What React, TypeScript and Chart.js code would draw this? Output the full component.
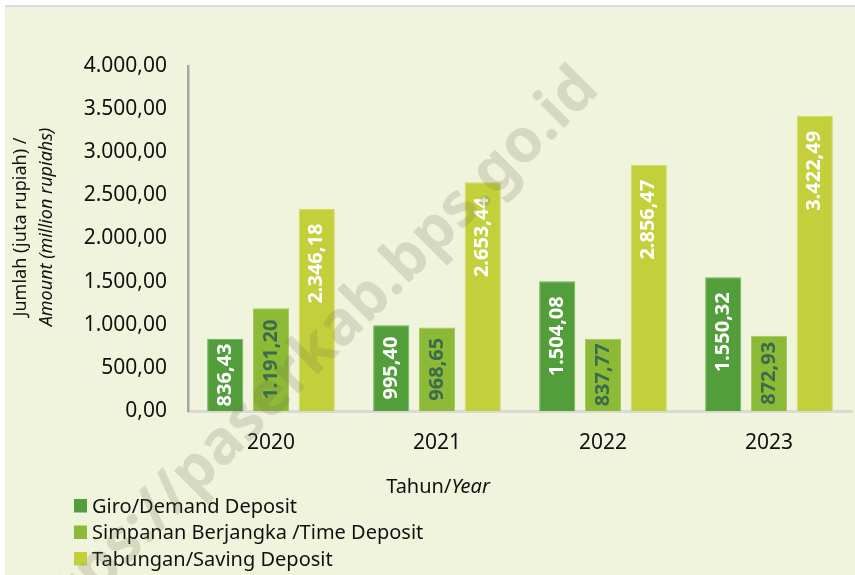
import React, { useEffect, useRef } from "react";
import { Chart, registerables } from "chart.js";

Chart.register(...registerables);

const years = ["2020", "2021", "2022", "2023"];
const giroValues = [836.43, 995.4, 1504.08, 1550.32];
const timeValues = [1191.2, 968.65, 837.77, 872.93];
const savingValues = [2346.18, 2653.44, 2856.47, 3422.49];
const seriesNames = [
  "Giro/Demand Deposit",
  "Simpanan Berjangka /Time Deposit",
  "Tabungan/Saving Deposit",
];
const yTitleLine1 = "Jumlah (juta rupiah) /";
const yTitleLine2 = "Amount (million rupiahs)";
const xTitleMain = "Tahun/";
const xTitleItalic = "Year";
const watermarkText = "https://paserkab.bps.go.id";

const FONT = "'Noto Sans', sans-serif";
const fillColors = ["#529E3A", "#8CB936", "#C3D03B"];
const borderColors = ["#6DB057", "#A2C85A", "#D0DA62"];
const labelColors = ["#FFFFFF", "#3B6B4D", "#FFFFFF"];

function fmt(v: number): string {
  const [i, d] = v.toFixed(2).split(".");
  return i.replace(/\B(?=(\d{3})+(?!\d))/g, ".") + "," + d;
}

const decorPlugin = {
  id: "decor",
  afterDatasetsDraw(chart: any) {
    const ctx = chart.ctx as CanvasRenderingContext2D;
    ctx.save();
    ctx.font = `bold 20px ${FONT}`;
    chart.data.datasets.forEach((ds: any, di: number) => {
      const meta = chart.getDatasetMeta(di);
      meta.data.forEach((bar: any, i: number) => {
        const text = fmt(ds.data[i]);
        const w = ctx.measureText(text).width;
        const { x, y, base } = bar.getProps(["x", "y", "base"], true);
        const h = base - y;
        const pad = h - w > 30 ? 15 : Math.max(0, (h - w) / 2);
        ctx.save();
        ctx.translate(x, y + pad);
        ctx.rotate(-Math.PI / 2);
        ctx.textAlign = "right";
        ctx.textBaseline = "middle";
        ctx.fillStyle = labelColors[di];
        ctx.fillText(text, 0, 0);
        ctx.restore();
      });
    });
    ctx.restore();
  },
  afterDraw(chart: any) {
    const ctx = chart.ctx as CanvasRenderingContext2D;
    ctx.save();
    ctx.fillStyle = "#111111";
    // Y axis title
    ctx.save();
    ctx.translate(21, 227);
    ctx.rotate(-Math.PI / 2);
    ctx.textAlign = "center";
    ctx.textBaseline = "middle";
    ctx.font = `18px ${FONT}`;
    ctx.fillText(yTitleLine1, 0, 0);
    ctx.restore();
    ctx.save();
    ctx.translate(47, 227);
    ctx.rotate(-Math.PI / 2);
    ctx.textAlign = "center";
    ctx.textBaseline = "middle";
    ctx.font = `italic 18px ${FONT}`;
    ctx.fillText(yTitleLine2, 0, 0);
    ctx.restore();
    // X axis title
    ctx.textBaseline = "alphabetic";
    ctx.textAlign = "left";
    ctx.font = `20px ${FONT}`;
    const w1 = ctx.measureText(xTitleMain).width;
    ctx.font = `italic 20px ${FONT}`;
    const w2 = ctx.measureText(xTitleItalic).width;
    const sx = 438 - (w1 + w2) / 2;
    ctx.font = `20px ${FONT}`;
    ctx.fillText(xTitleMain, sx, 493);
    ctx.font = `italic 20px ${FONT}`;
    ctx.fillText(xTitleItalic, sx + w1, 493);
    // Legend
    ctx.font = `20px ${FONT}`;
    seriesNames.forEach((name, i) => {
      const baseY = 512.5 + i * 26.5;
      ctx.fillStyle = fillColors[i];
      ctx.fillRect(74, baseY - 13.5, 13, 13.5);
      ctx.fillStyle = "#111111";
      ctx.fillText(name, 92, baseY);
    });
    // Watermark
    ctx.font = `bold 61px ${FONT}`;
    const off = ctx.measureText("https://paserkab").width;
    ctx.translate(394, 298);
    ctx.rotate((-45 * Math.PI) / 180);
    ctx.fillStyle = "rgba(110,110,80,0.2)";
    ctx.fillText(watermarkText, -off, 0);
    ctx.restore();
  },
};

export default function App() {
  const canvasRef = useRef<HTMLCanvasElement | null>(null);

  useEffect(() => {
    if (!canvasRef.current) return;
    const datasets = [giroValues, timeValues, savingValues].map((vals, i) => ({
      label: seriesNames[i],
      data: vals,
      backgroundColor: fillColors[i],
      borderColor: borderColors[i],
      borderWidth: 1,
      categoryPercentage: 0.827,
      barPercentage: 0.79,
    }));
    const chart = new Chart(canvasRef.current, {
      type: "bar",
      data: { labels: years, datasets },
      options: {
        responsive: false,
        devicePixelRatio: 1,
        animation: false,
        layout: { padding: { top: 66, left: 0, right: 3, bottom: 0 } },
        plugins: { legend: { display: false }, tooltip: { enabled: false } },
        scales: {
          x: {
            grid: { display: false, drawTicks: false },
            border: { display: true, color: "#D9D9D9", width: 3 },
            ticks: { color: "#111111", font: { family: FONT, size: 21 }, padding: 19 },
            afterFit: (s: any) => {
              s.height = 164;
            },
          },
          y: {
            min: 0,
            max: 4000,
            grid: { display: false, drawTicks: false },
            border: { display: true, color: "#A6A6A6", width: 2.5 },
            ticks: {
              stepSize: 500,
              color: "#111111",
              font: { family: FONT, size: 21 },
              padding: 21,
              callback: (v: any) => fmt(Number(v)),
            },
            afterFit: (s: any) => {
              s.width = 188;
            },
          },
        },
      },
      plugins: [decorPlugin],
    } as any);
    return () => chart.destroy();
  }, []);

  return (
    <div style={{ position: "fixed", left: 0, top: 0, width: 855, height: 575, background: "#FFFFFF" }}>
      <div
        style={{
          position: "absolute",
          left: 5,
          top: 5,
          right: 0,
          bottom: 0,
          background: "#F1F4DC",
          borderTop: "2px solid #DADADA",
        }}
      />
      <canvas ref={canvasRef} width={855} height={575} style={{ position: "absolute", left: 0, top: 0 }} />
    </div>
  );
}
